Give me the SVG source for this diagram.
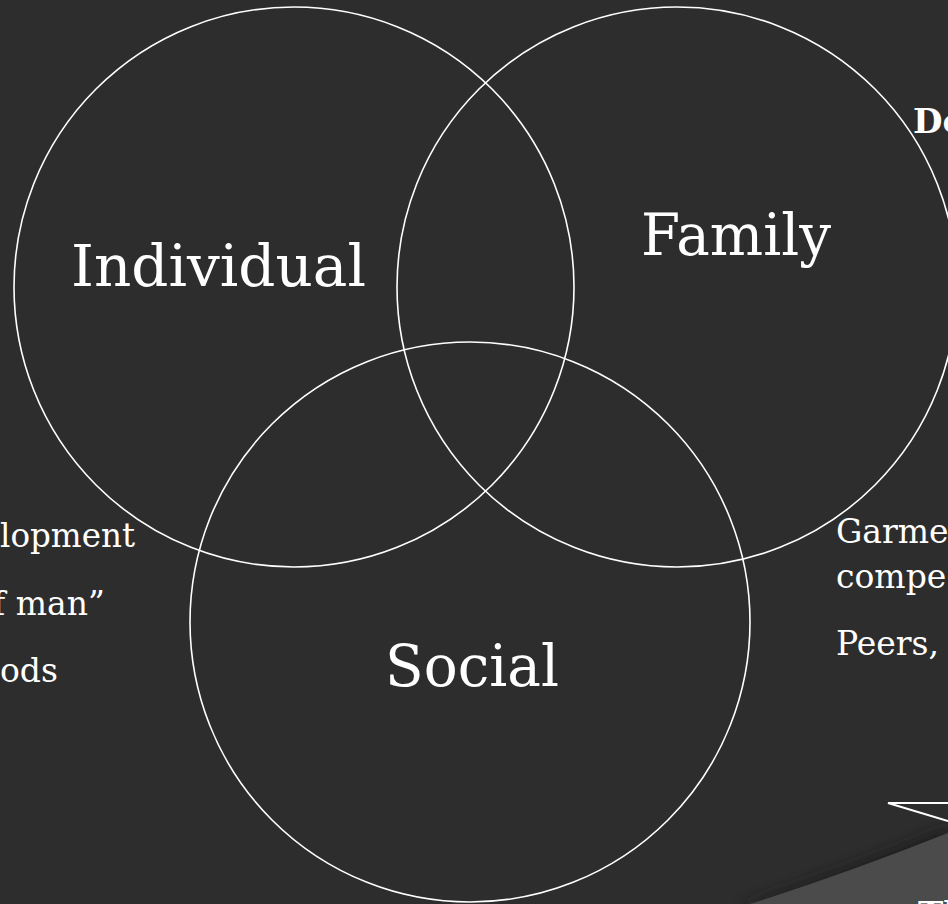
<svg xmlns="http://www.w3.org/2000/svg" width="948" height="904" viewBox="0 0 948 904">
  <defs>
    <style>
      .ring { fill: none; stroke: #ffffff; stroke-width: 1.6; }
      .big { font-family: "DejaVu Serif", "Liberation Serif", serif; font-size: 58px; fill: #ffffff; }
      .body { font-family: "DejaVu Serif", "Liberation Serif", serif; font-size: 33px; fill: #ffffff; }
      .bold { font-family: "DejaVu Serif", "Liberation Serif", serif; font-size: 34px; font-weight: bold; fill: #ffffff; }
    </style>
    <filter id="soft" x="-20%" y="-50%" width="140%" height="200%">
      <feGaussianBlur stdDeviation="6"/>
    </filter>
  </defs>
  <rect width="948" height="904" fill="#2d2d2d"/>

  <g id="curl">
    <path d="M740,904 Q850,868 948,826 L948,904 Z" fill="#1e1e1e" opacity="0.7" filter="url(#soft)"/>
    <path d="M750,904 Q850,872 948,833 L948,904 Z" fill="#4b4b4b"/>
    <polyline points="948,803 888,803 948,821" fill="none" stroke="#ffffff" stroke-width="2"/>
  </g>

  <g id="individual">
    <circle class="ring" cx="294" cy="287" r="280"/>
    <text class="big" x="71" y="286" textLength="295" lengthAdjust="spacingAndGlyphs">Individual</text>
  </g>
  <g id="family">
    <circle class="ring" cx="677" cy="287" r="280"/>
    <text class="big" x="641" y="255" textLength="190" lengthAdjust="spacingAndGlyphs">Family</text>
  </g>
  <g id="social">
    <circle class="ring" cx="470" cy="622" r="280"/>
    <text class="big" x="385" y="686" textLength="174" lengthAdjust="spacingAndGlyphs">Social</text>
  </g>

  <g id="left-notes">
    <text class="body" x="0" y="547" textLength="135" lengthAdjust="spacingAndGlyphs">lopment</text>
    <text class="body" x="-7" y="615">f man”</text>
    <text class="body" x="0" y="682">ods</text>
  </g>

  <g id="right-notes">
    <text class="bold" x="913" y="133">Do</text>
    <text class="body" x="836" y="543">Garme</text>
    <text class="body" x="836" y="588">compe</text>
    <text class="body" x="836" y="655">Peers,</text>
    <text class="bold" x="918" y="926">Th</text>
  </g>

  <g id="connectors"/>
</svg>
